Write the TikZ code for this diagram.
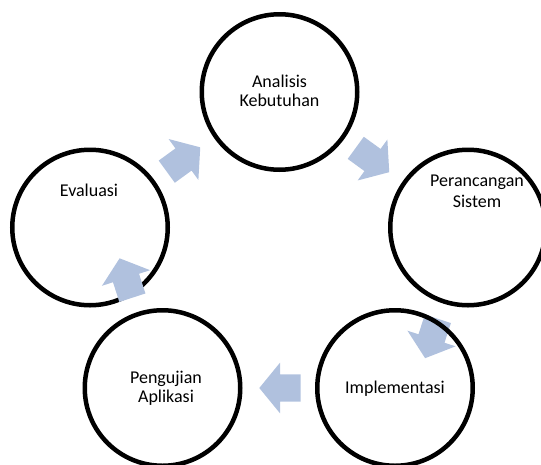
\documentclass[tikz,border=0pt]{standalone}
\usepackage{fontspec}
\setmainfont{Carlito}
\definecolor{arrowblue}{RGB}{176,193,222}
\begin{document}
\begin{tikzpicture}[x=1pt,y=-1pt,
  stage/.style={circle, draw=black, line width=4.5pt, minimum size=155.5pt, inner sep=0pt},
  lbl/.style={anchor=base, font=\fontsize{18}{20}\selectfont, inner sep=0pt, text=black},
  blockarr/.pic={\fill[arrowblue] (-20.7,-13.7) -- (0,-13.7) -- (0,-25.3) -- (20.7,0) -- (0,25.3) -- (0,13.7) -- (-20.7,13.7) -- cycle;}]
\useasboundingbox (0,0) rectangle (541,464);
% arrow positions
\coordinate (ar1) at (183.5,159.5);
\coordinate (ar2) at (372.5,160);
\coordinate (ar3) at (431.5,338.5);
\coordinate (ar4) at (280,388);
\coordinate (ar5) at (126,278);
% arrows behind circles
\pic[rotate=36] at (ar1) {blockarr};
\pic[rotate=-36] at (ar2) {blockarr};
\pic[rotate=-108] at (ar3) {blockarr};
\pic[rotate=180] at (ar4) {blockarr};
% labels
\node[lbl] (ta1) at (279.5,87.3) {Analisis};
\node[lbl] (ta2) at (279.5,106.7) {Kebutuhan};
\node[lbl] (tp1) at (477,186.7) {Perancangan};
\node[lbl] (tp2) at (477,207.3) {Sistem};
\node[lbl] (ti1) at (395,393.3) {Implementasi};
\node[lbl] (tu1) at (166,383) {Pengujian};
\node[lbl] (tu2) at (166,402.5) {Aplikasi};
\node[lbl] (te1) at (89,196) {Evaluasi};
% circles
\node[stage] (a) at (279.5,92) {};
\node[stage] (p) at (468,227.5) {};
\node[stage] (i) at (395,388) {};
\node[stage] (u) at (162.5,388) {};
\node[stage] (e) at (90,227.5) {};
% arrow on top
\pic[rotate=108] at (ar5) {blockarr};
\end{tikzpicture}
\end{document}
